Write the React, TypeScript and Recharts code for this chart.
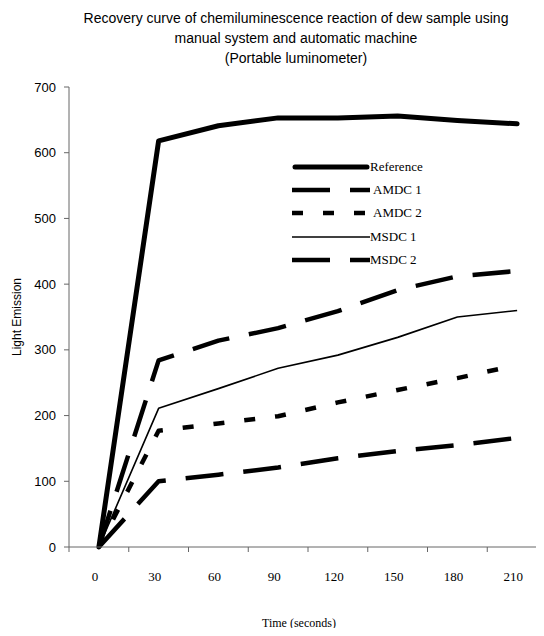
import React from 'react';
import { LineChart, Line, XAxis, YAxis, Legend } from 'recharts';

const times = ['0', '30', '60', '90', '120', '150', '180', '210'];
const reference = [0, 618, 641, 653, 653, 656, 649, 644];
const amdc1 = [0, 284, 314, 333, 359, 391, 412, 420];
const amdc2 = [0, 177, 188, 199, 220, 239, 257, 277];
const msdc1 = [0, 211, 241, 272, 292, 319, 350, 360];
const msdc2 = [0, 100, 110, 121, 135, 146, 155, 166];
const yTicks = [0, 100, 200, 300, 400, 500, 600, 700];

const data = times.map((t, i) => ({
  time: t,
  reference: reference[i],
  amdc1: amdc1[i],
  amdc2: amdc2[i],
  msdc1: msdc1[i],
  msdc2: msdc2[i],
}));

const series = [
  { key: 'reference', name: 'Reference', width: 5, dash: undefined, cap: 'round' },
  { key: 'amdc1', name: 'AMDC 1', width: 4.5, dash: '38 20', cap: 'butt' },
  { key: 'amdc2', name: 'AMDC 2', width: 4.5, dash: '11 20', cap: 'butt' },
  { key: 'msdc1', name: 'MSDC 1', width: 1.6, dash: undefined, cap: 'butt' },
  { key: 'msdc2', name: 'MSDC 2', width: 4.5, dash: '38 20', cap: 'butt' },
];

const axisColor = '#666';
const serif = '"Liberation Serif", "Times New Roman", serif';
const sans = '"Liberation Sans", Arial, sans-serif';

// x ticks sit on the band edges, labels in the middle
const TimeTick = (props: any) => {
  const { x, y, payload } = props;
  const off = payload.offset || 0;
  return (
    <g>
      <line x1={x - off} y1={y} x2={x - off} y2={y + 5} stroke={axisColor} strokeWidth={1} />
      <text x={x - 4} y={y + 34} textAnchor="middle" fontFamily={serif} fontSize={13} fill="#000">
        {payload.value}
      </text>
    </g>
  );
};

const LegendBox = () => (
  <div style={{ fontFamily: serif, fontSize: 13, color: '#000' }}>
    {series.map((s) => (
      <div key={s.key} style={{ display: 'flex', alignItems: 'center', height: 23.3 }}>
        <svg width={78} height={10}>
          <line
            x1={s.cap === 'round' ? 3 : 0}
            y1={5}
            x2={s.cap === 'round' ? 75 : 78}
            y2={5}
            stroke="#000"
            strokeWidth={s.width}
            strokeDasharray={s.dash}
            strokeLinecap={s.cap as any}
          />
        </svg>
        <span style={{ marginLeft: s.key === 'amdc1' || s.key === 'amdc2' ? 3 : 0 }}>{s.name}</span>
      </div>
    ))}
  </div>
);

const App: React.FC = () => {
  return (
    <div style={{ position: 'relative', width: 544, height: 636, overflow: 'hidden', background: '#fff', margin: -8 }}>
      <div
        style={{
          position: 'absolute',
          top: 8,
          left: 0,
          width: 592,
          textAlign: 'center',
          fontFamily: sans,
          fontSize: 14,
          lineHeight: '20px',
          color: '#000',
        }}
      >
        Recovery curve of chemiluminescence reaction of dew sample using
        <br />
        manual system and automatic machine
        <br />
        (Portable luminometer)
      </div>
      <LineChart width={547} height={636} data={data} margin={{ top: 87, right: 0, left: 0, bottom: 0 }}>
        <XAxis
          dataKey="time"
          scale="band"
          height={89}
          tickSize={0}
          tickMargin={0}
          tickLine={false}
          stroke={axisColor}
          tick={<TimeTick />}
          interval={0}
          label={{
            value: 'Time (seconds)',
            position: 'insideBottom',
            offset: 9,
            dx: -9,
            style: { fontFamily: serif, fontSize: 12, fill: '#000' },
          }}
        />
        <YAxis
          width={69}
          domain={[0, 700]}
          ticks={yTicks}
          interval={0}
          tickSize={5}
          tickMargin={8}
          stroke={axisColor}
          tick={{ fontFamily: sans, fontSize: 13, fill: '#000' }}
          label={{
            value: 'Light Emission',
            angle: -90,
            position: 'insideLeft',
            offset: 17,
            style: { fontFamily: sans, fontSize: 12, fill: '#000', textAnchor: 'middle' },
          }}
        />
        <Legend
          layout="vertical"
          align="center"
          verticalAlign="middle"
          content={<LegendBox />}
          wrapperStyle={{ top: 155, left: 292, width: 160 }}
        />
        {series.map((s) => (
          <Line
            key={s.key}
            type="linear"
            dataKey={s.key}
            name={s.name}
            stroke="#000"
            strokeWidth={s.width}
            strokeDasharray={s.dash}
            strokeLinecap={s.cap as any}
            strokeLinejoin="round"
            dot={false}
            activeDot={false}
            isAnimationActive={false}
          />
        ))}
      </LineChart>
    </div>
  );
};

export default App;
